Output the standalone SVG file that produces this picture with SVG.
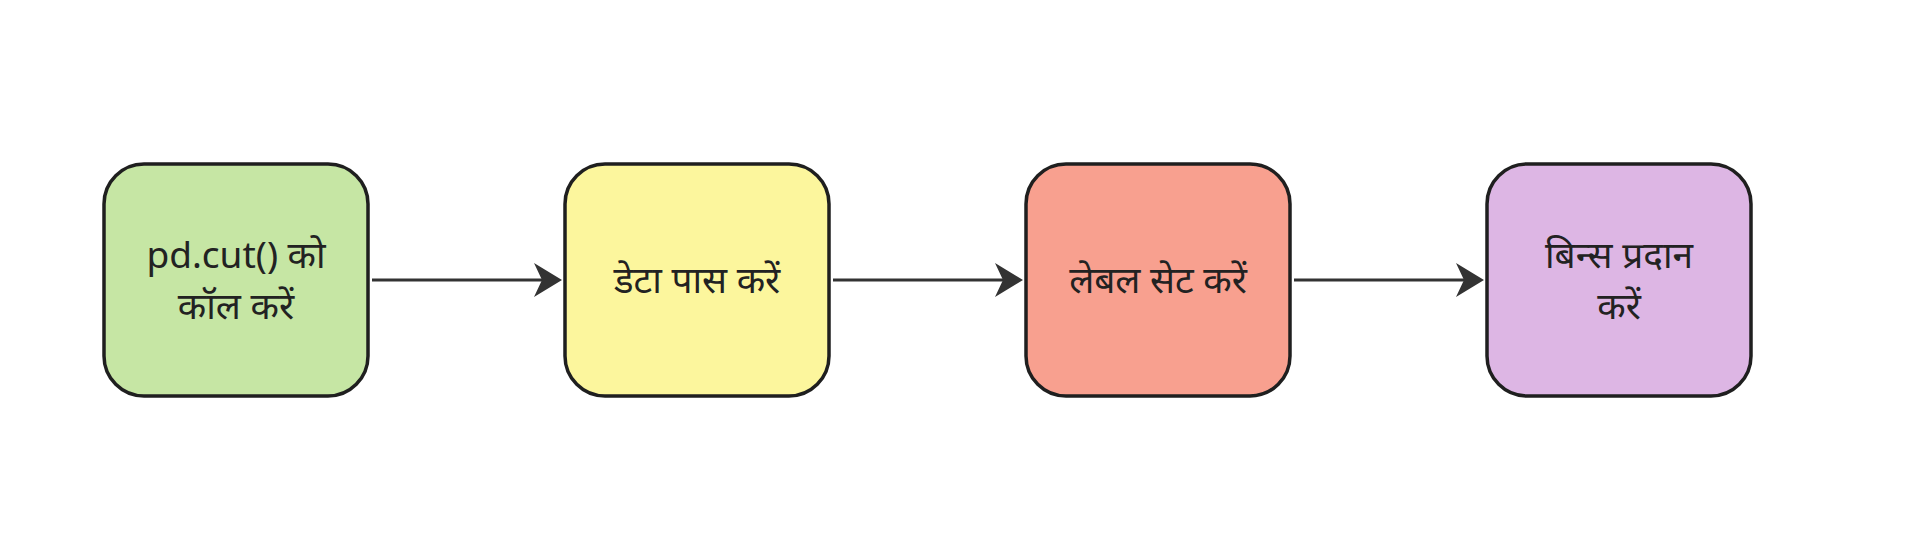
<svg xmlns="http://www.w3.org/2000/svg" width="1912" height="544" viewBox="0 0 1912 544">
<style>
.box{stroke:#1f1f1f;stroke-width:3.5}
.lbl{font-family:"Noto Sans","Noto Sans Devanagari","Lohit Devanagari",sans-serif;font-size:37px;fill:#222;text-anchor:middle}
.edge{stroke:#333;stroke-width:3;fill:none}
</style>
<defs>
<marker id="ah" viewBox="0 0 28 34" refX="18" refY="17" markerWidth="28" markerHeight="34" markerUnits="userSpaceOnUse" orient="auto">
<path d="M0,0 L28,17 L0,34 L8,17 Z" fill="#333"/>
</marker>
</defs>
<rect width="1912" height="544" fill="#fff"/>
<g id="connectors">
<line class="edge" x1="372" y1="280" x2="552" y2="280" marker-end="url(#ah)"/>
<line class="edge" x1="833" y1="280" x2="1013" y2="280" marker-end="url(#ah)"/>
<line class="edge" x1="1294" y1="280" x2="1474" y2="280" marker-end="url(#ah)"/>
</g>
<g id="node1">
<rect class="box" x="104" y="164" width="264" height="232" rx="40" fill="#C6E6A4"/>
<text class="lbl" x="236" y="268">pd.cut() को</text>
<text class="lbl" x="236" y="319">कॉल करें</text>
</g>
<g id="node2">
<rect class="box" x="565" y="164" width="264" height="232" rx="40" fill="#FCF69D"/>
<text class="lbl" x="697" y="293">डेटा पास करें</text>
</g>
<g id="node3">
<rect class="box" x="1026" y="164" width="264" height="232" rx="40" fill="#F8A08F"/>
<text class="lbl" x="1158" y="293">लेबल सेट करें</text>
</g>
<g id="node4">
<rect class="box" x="1487" y="164" width="264" height="232" rx="40" fill="#DDB6E4"/>
<text class="lbl" x="1619" y="268">बिन्स प्रदान</text>
<text class="lbl" x="1619" y="319">करें</text>
</g>
</svg>
